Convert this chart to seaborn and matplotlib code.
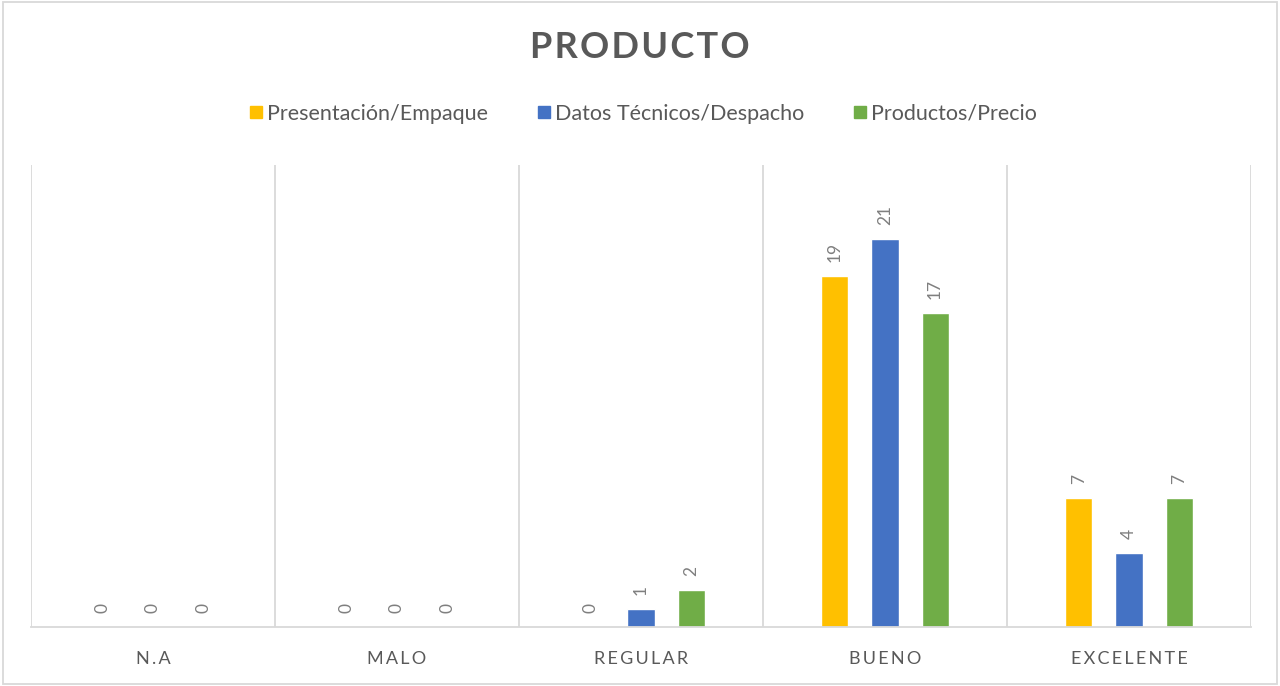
import matplotlib
matplotlib.use("Agg")
import matplotlib.pyplot as plt
import seaborn as sns
import pandas as pd
from matplotlib.patches import Rectangle
from matplotlib.lines import Line2D

categories = ["N.A", "MALO", "REGULAR", "BUENO", "EXCELENTE"]
series_names = ["Presentación/Empaque", "Datos Técnicos/Despacho", "Productos/Precio"]
presentacion = [0, 0, 0, 19, 7]
datos = [0, 0, 1, 21, 4]
productos = [0, 0, 2, 17, 7]
colors = ["#FFC000", "#4472C4", "#70AD47"]

rows = []
for name, vals in zip(series_names, [presentacion, datos, productos]):
    for c, v in zip(categories, vals):
        rows.append({"cat": c, "serie": name, "valor": v})
df = pd.DataFrame(rows)

sns.set_theme(style="white")
plt.rcParams["font.family"] = ["Lato", "DejaVu Sans"]
txt = "#595959"

fig = plt.figure(figsize=(12.8, 6.86), dpi=100)
ax = fig.add_axes([31/1280, 1-627/686, (1251-31)/1280, (627-165)/686])
sns.barplot(data=df, x="cat", y="valor", hue="serie", order=categories,
            hue_order=series_names, palette=colors, width=0.615, gap=0.46,
            ax=ax, legend=False, saturation=1)

for cont in ax.containers:
    ax.bar_label(cont, padding=10, rotation=90, color="#7F7F7F", fontsize=12.5)

ax.set_ylim(0, 25)
ax.set_xlim(-0.5, 4.5)
ax.set_yticks([])
ax.set_xlabel("")
ax.set_ylabel("")
sp = "\u2009"
ax.set_xticks(range(len(categories)))
ax.set_xticklabels([sp.join(list(c)) for c in categories], color=txt, fontsize=13)
ax.tick_params(axis="x", length=0, pad=17)
ax.set_xticks([i - 0.5 for i in range(len(categories) + 1)], minor=True)
ax.grid(True, which="minor", axis="x", color="#D9D9D9", linewidth=1.3)
ax.tick_params(axis="x", which="minor", length=0)
for s in ["top", "left", "right"]:
    ax.spines[s].set_visible(False)
ax.spines["bottom"].set_color("#D9D9D9")
ax.spines["bottom"].set_linewidth(1.3)

fig.text(0.5, 1-48/686, "\u200a".join("PRODUCTO"), ha="center", va="center",
         fontsize=26, fontweight="bold", color=txt)

handles = [Line2D([], [], marker="s", linestyle="none", markersize=9,
                  markerfacecolor=c, markeredgecolor=c) for c in colors]
fig.legend(handles, series_names, loc="center", bbox_to_anchor=(0.5, 1-114/686),
           ncol=3, frameon=False, fontsize=15.5, labelcolor=txt,
           handletextpad=-0.1, columnspacing=2.0, handlelength=1.2)

fig.patches.append(Rectangle((0.002, 0.003), 0.996, 0.994, transform=fig.transFigure,
                             fill=False, edgecolor="#D9D9D9", linewidth=1.3))
fig.savefig("out.png", dpi=100)
